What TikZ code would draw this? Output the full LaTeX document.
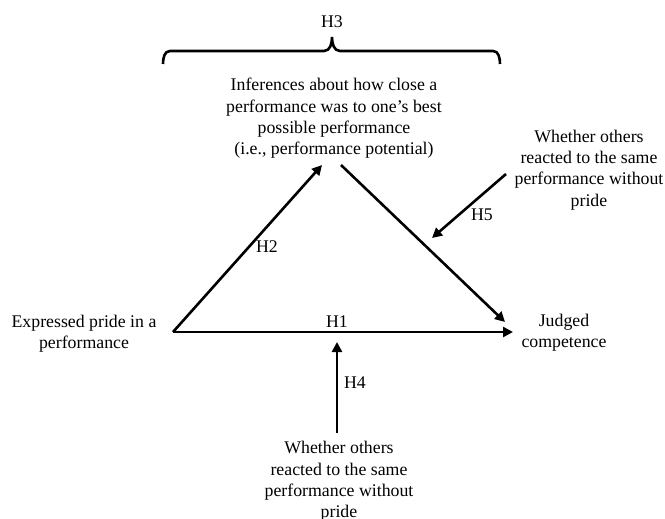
\documentclass[tikz,border=0pt]{standalone}
\usepackage{fontspec}
\setmainfont{Liberation Serif}
\usetikzlibrary{arrows.meta}
\begin{document}
\begin{tikzpicture}[x=1pt,y=-1pt,
  txt/.style={inner sep=0pt,align=center,font=\fontsize{17.8}{21.3}\selectfont},
  lbl/.style={inner sep=0pt,font=\fontsize{17.8}{21.3}\selectfont},
  conn/.style={line width=2.6pt,-{Triangle[length=10pt,width=10pt]}},
  brace/.style={line width=2.6pt}]
\useasboundingbox[fill=white] (0,0) rectangle (665,519);

% text blocks
\node[txt] (top) at (334,118.5) {Inferences about how close a\\performance was to one’s best\\possible performance\\(i.e., performance potential)};
\node[txt] (left) at (84,334) {Expressed pride in a\\performance};
\node[txt] (right) at (564,333) {Judged\\competence};
\node[txt] (modr) at (589,170) {Whether others\\reacted to the same\\performance without\\pride};
\node[txt] (modb) at (339,481.5) {Whether others\\reacted to the same\\performance without\\pride};

% connector end points
\coordinate (a) at (173,332);
\coordinate (b) at (513,332);
\coordinate (c) at (322,165);
\coordinate (d) at (341,165);
\coordinate (e) at (505,322);
\coordinate (f) at (506,174);
\coordinate (g) at (432,238);
\coordinate (h) at (337,433);
\coordinate (i) at (337,342);

% connectors
\draw[conn] (a) -- (b);
\draw[conn] (a) -- (c);
\draw[conn] (d) -- (e);
\draw[conn] (f) -- (g);
\draw[conn] (h) -- (i);

% labels
\node[lbl] (h1) at (337,322) {H1};
\node[lbl] (h2) at (267,247) {H2};
\node[lbl] (h3) at (332,22) {H3};
\node[lbl] (h4) at (355,383) {H4};
\node[lbl] (h5) at (482,215) {H5};

% brace
\coordinate (bl) at (163,64);
\coordinate (br) at (500,64);
\coordinate (bt) at (332,37);
\draw[brace] (bl) to[out=90,in=180] (170,51) -- (324,51) to[out=0,in=-90] (bt)
  to[out=-90,in=180] (340,51) -- (493,51) to[out=0,in=90] (br);
\end{tikzpicture}
\end{document}
